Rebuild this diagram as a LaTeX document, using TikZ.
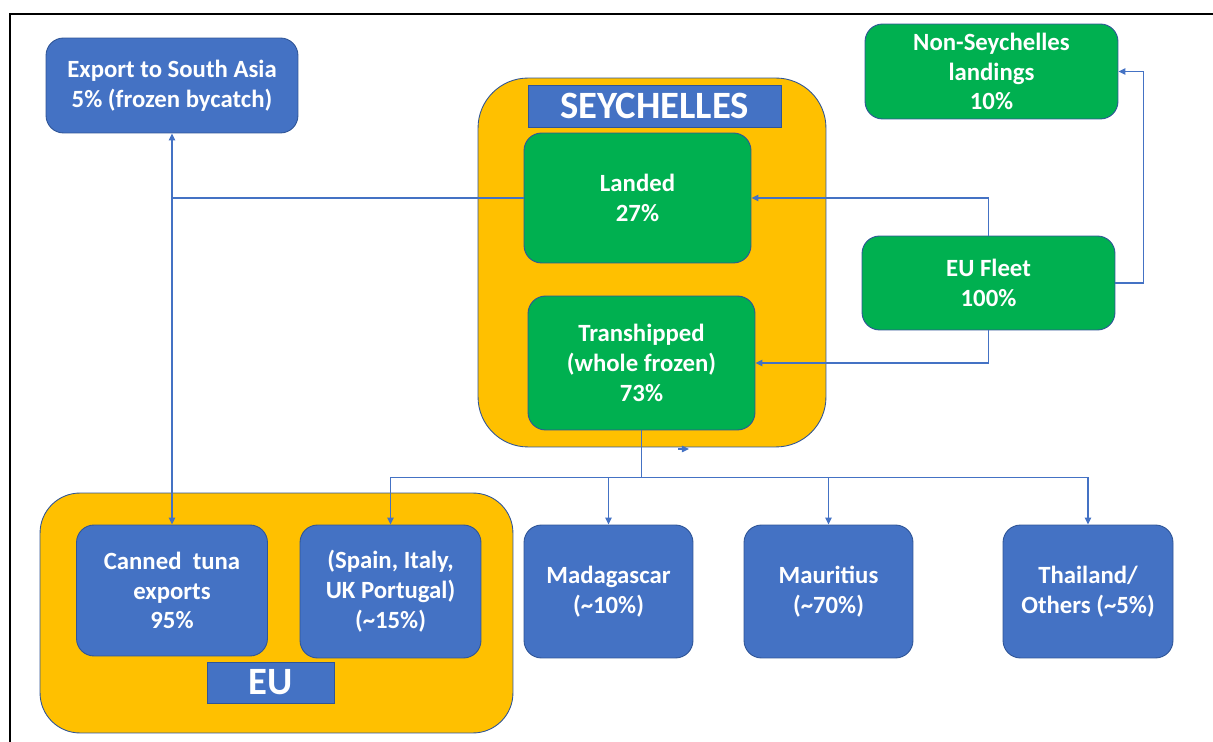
\documentclass[tikz,border=0pt]{standalone}
\usepackage{fontspec}
\setmainfont{Carlito}
\usetikzlibrary{arrows.meta}

\definecolor{boxblue}{HTML}{4472C4}
\definecolor{boxgreen}{HTML}{00B050}
\definecolor{boxorange}{HTML}{FFC000}
\definecolor{edgeblue}{HTML}{2F5597}
\newcommand{\cardfont}{\fontsize{14.1}{17}\selectfont\bfseries}
\newcommand{\bannerfont}{\fontsize{22}{25}\selectfont\bfseries}

\begin{document}
\begin{tikzpicture}[x=0.02cm,y=-0.02cm,
    bluebox/.style={draw=edgeblue,line width=0.5pt,fill=boxblue,rounded corners=0.35cm,
      text=white,font=\cardfont,align=center,inner sep=0pt},
    greenbox/.style={bluebox,fill=boxgreen},
    country/.style={bluebox,fill=boxorange,rounded corners=1cm},
    namebox/.style={draw=edgeblue,line width=0.5pt,fill=boxblue,text=white,font=\bannerfont,inner sep=0pt},
    flow/.style={draw=boxblue,line width=0.8pt},
    arrowed/.style={-{Triangle[length=4pt,width=3.6pt]}}]
  \useasboundingbox (0,0) rectangle (1213,742);
  % Frame
  \draw[line width=1.3pt] (10,742) -- (10,14) -- (1213,14);

  % Seychelles
  \node[country,minimum width=6.96cm,minimum height=7.38cm] (sey) at (652,262.5) {};
  \node[namebox,minimum width=5.06cm,minimum height=0.84cm] (seyname) at (654.5,106) {SEYCHELLES};
  \node[greenbox,minimum width=4.54cm,minimum height=2.6cm] (landed) at (637.5,198) {Landed\\27\%};
  \node[greenbox,minimum width=4.54cm,minimum height=2.68cm] (tranship) at (641.5,363) {Transhipped\\(whole frozen)\\73\%};

  % EU
  \node[country,rounded corners=0.8cm,minimum width=9.46cm,minimum height=4.8cm] (eu) at (276.5,613) {};
  \node[bluebox,minimum width=3.82cm,minimum height=2.62cm] (canned) at (172,590.5) {Canned\ \ tuna\\exports\\95\%};
  \node[bluebox,minimum width=3.62cm,minimum height=2.66cm] (spain) at (390.5,591.5) {(Spain, Italy,\\UK Portugal)\\(\textasciitilde15\%)};
  \node[namebox,minimum width=2.54cm,minimum height=0.82cm] (euname) at (270.5,682.5) {EU};

  % Other markets
  \node[bluebox,minimum width=5.04cm,minimum height=1.9cm] (export) at (172,85.5) {Export to South Asia\\5\% (frozen bycatch)};
  \node[bluebox,minimum width=3.38cm,minimum height=2.66cm] (madagascar) at (608.5,591.5) {Madagascar\\(\textasciitilde10\%)};
  \node[bluebox,minimum width=3.38cm,minimum height=2.66cm] (mauritius) at (828.5,591.5) {Mauritius\\(\textasciitilde70\%)};
  \node[bluebox,minimum width=3.4cm,minimum height=2.66cm] (thailand) at (1088,591.5) {Thailand/\\Others (\textasciitilde5\%)};

  % Fleet
  \node[greenbox,minimum width=5.06cm,minimum height=1.88cm] (fleet) at (988.5,283) {EU Fleet\\100\%};
  \node[greenbox,minimum width=5.06cm,minimum height=1.9cm] (nonsey) at (991.5,71.5) {Non-Seychelles\\landings\\10\%};

  % Landed split
  \coordinate (split) at (canned.north |- landed.west);
  \draw[flow] (landed.west) -- (split);
  \draw[flow,arrowed] (split) -- (export.south);
  \draw[flow,arrowed] (split) -- (canned.north);

  % Fleet out
  \draw[flow,arrowed] (fleet.north) |- (landed.east);
  \draw[flow,arrowed] (fleet.south) |- (tranship.east);
  \draw[flow,arrowed] (fleet.east) -- ++(28,0) |- (nonsey.east);

  % Transhipped out
  \path (tranship.south) ++(0,47) coordinate (hub);
  \draw[flow] (tranship.south) -- (hub);
  \foreach \dest in {spain,madagascar,mauritius,thailand}
    \draw[flow,arrowed] (hub) -| (\dest.north);
  \coordinate (stub) at (678,449);
  \draw[flow,arrowed] (stub) -- ++(11,0);
\end{tikzpicture}
\end{document}
